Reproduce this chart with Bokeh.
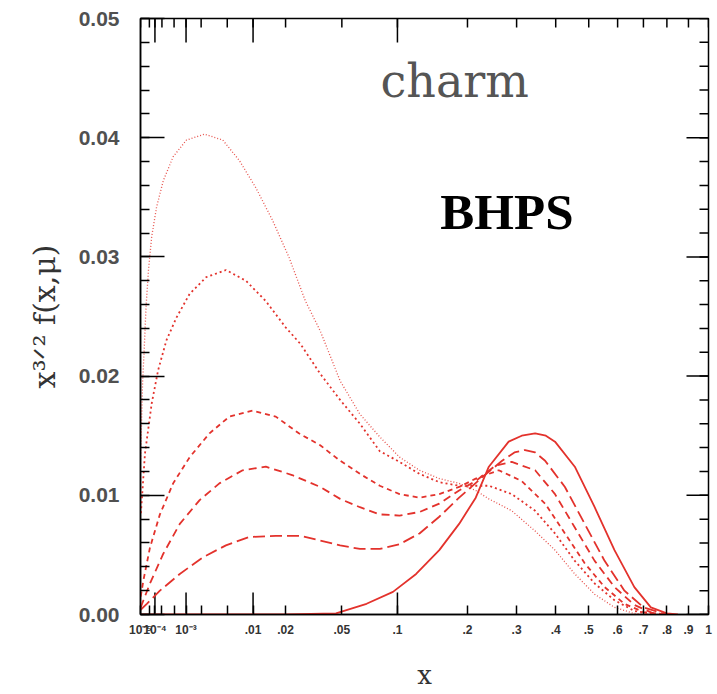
import numpy as np
from bokeh.plotting import figure
from bokeh.models import FixedTicker, CustomJSTickFormatter, Label, Range1d
from bokeh.embed import file_html
from bokeh.resources import INLINE

# ---------------- data ----------------
# solid (lowest scale)
x_mu1 = [1e-5, 0.02, 0.046, 0.0694, 0.0951, 0.1223, 0.1542, 0.1856, 0.215, 0.2402, 0.282, 0.312, 0.345, 0.373,
         0.398, 0.456, 0.5195, 0.5886, 0.6636, 0.7307, 0.80, 0.85]
y_mu1 = [0.0, 0.0, 0.0001, 0.0009, 0.0019, 0.0034, 0.0054, 0.0076, 0.0098, 0.0124, 0.0145, 0.0150, 0.0152, 0.0150,
         0.0145, 0.0124, 0.0090, 0.0054, 0.0023, 0.0006, 0.0001, 0.0]
# long dash
x_mu2 = [1.05e-5, 3.4e-5, 1.66e-4, 7.1e-4, 2.15e-3, 4.8e-3, 9.1e-3, 0.0165, 0.0262, 0.0363, 0.0488, 0.0638,
         0.0816, 0.1024, 0.1266, 0.1542, 0.1856, 0.227, 0.2676, 0.295, 0.32, 0.345, 0.371, 0.4264, 0.487, 0.5534,
         0.6254, 0.70, 0.78, 0.84]
y_mu2 = [0.0004, 0.0009, 0.0020, 0.0034, 0.0048, 0.0058, 0.0065, 0.0066, 0.0066, 0.0062, 0.0058, 0.0055,
         0.0055, 0.0059, 0.0068, 0.0082, 0.0098, 0.0115, 0.0129, 0.0136, 0.0138, 0.0136, 0.0129, 0.0107, 0.0076,
         0.0045, 0.0020, 0.0006, 0.0001, 0.0]
# dash
x_mu3 = [1.05e-5, 1.9e-5, 5.4e-5, 2.25e-4, 7.1e-4, 1.88e-3, 3.9e-3, 7.7e-3, 0.0134, 0.0226, 0.0363, 0.0488,
         0.0638, 0.0816, 0.1024, 0.1266, 0.1542, 0.1856, 0.215, 0.254, 0.289, 0.345, 0.398, 0.456, 0.5195,
         0.5886, 0.6636, 0.74, 0.82]
y_mu3 = [0.0006, 0.0012, 0.0026, 0.0051, 0.0076, 0.0096, 0.0110, 0.0121, 0.0124, 0.0117, 0.0107, 0.0097,
         0.0090, 0.0084, 0.0083, 0.0086, 0.0093, 0.0104, 0.0112, 0.0125, 0.0128, 0.0121, 0.0101, 0.0073, 0.0045,
         0.0023, 0.0008, 0.0001, 0.0]
# short dash
x_mu4 = [1.05e-5, 1.9e-5, 5.4e-5, 1.66e-4, 4.7e-4, 1.2e-3, 2.77e-3, 5.32e-3, 9.9e-3, 0.0165, 0.0255, 0.0363,
         0.0488, 0.0638, 0.0816, 0.1024, 0.1266, 0.1542, 0.1856, 0.215, 0.2606, 0.312, 0.371, 0.4264, 0.487,
         0.5534, 0.6254, 0.70, 0.80]
y_mu4 = [0.0015, 0.0029, 0.0056, 0.0084, 0.0110, 0.0132, 0.0152, 0.0166, 0.0171, 0.0166, 0.0152, 0.0142,
         0.0129, 0.0118, 0.0108, 0.0101, 0.0098, 0.0101, 0.0107, 0.0114, 0.0121, 0.0112, 0.0093, 0.0068, 0.0043,
         0.0023, 0.0009, 0.0002, 0.0]
# dotted
x_mu5 = [1.1e-5, 2.5e-5, 4.4e-5, 6.8e-5, 1.4e-4, 2.9e-4, 5.8e-4, 1.2e-3, 2.45e-3, 4.82e-3, 8.38e-3, 0.01336,
         0.020, 0.0262, 0.0363, 0.0488, 0.0638, 0.0816, 0.1024, 0.1266, 0.1542, 0.1856, 0.2402, 0.289, 0.345,
         0.398, 0.456, 0.5195, 0.5886, 0.6636, 0.75]
y_mu5 = [0.0085, 0.0135, 0.0157, 0.0177, 0.0205, 0.0230, 0.0249, 0.0269, 0.0283, 0.0289, 0.0280, 0.0263,
         0.0241, 0.0227, 0.0202, 0.0180, 0.0160, 0.0137, 0.0128, 0.0118, 0.0111, 0.0108, 0.0108, 0.0101, 0.0087,
         0.0068, 0.0045, 0.0026, 0.0012, 0.0003, 0.0]
# fine dotted (highest scale)
x_mu6 = [1.05e-5, 1.3e-5, 1.6e-5, 2.1e-5, 3.0e-5, 4.4e-5, 6.8e-5, 1.2e-4, 2.25e-4, 4.7e-4, 1.02e-3, 2.29e-3,
         4.35e-3, 7.04e-3, 0.01068, 0.01538, 0.02128, 0.02854, 0.0363, 0.0488, 0.0638, 0.0816, 0.1024, 0.1266,
         0.1542, 0.1856, 0.215, 0.2402, 0.289, 0.345, 0.398, 0.456, 0.5195, 0.5886, 0.66, 0.75]
y_mu6 = [0.0130, 0.0165, 0.0195, 0.0219, 0.0258, 0.0289, 0.0317, 0.0342, 0.0364, 0.0384, 0.0398, 0.0403,
         0.0398, 0.0381, 0.0358, 0.0331, 0.0300, 0.0263, 0.0238, 0.0196, 0.0168, 0.0149, 0.0132, 0.0121,
         0.0114, 0.0110, 0.0104, 0.0097, 0.0087, 0.0070, 0.0054, 0.0034, 0.0017, 0.0006, 0.0001, 0.0]

xtick_values = [1e-5, 1e-4, 1e-3, 0.01, 0.02, 0.05, 0.1, 0.2, 0.3, 0.4, 0.5, 0.6, 0.7, 0.8, 0.9, 1.0]
xtick_labels = ["10⁻⁵", "10⁻⁴", "10⁻³", ".01", ".02", ".05", ".1", ".2", ".3", ".4", ".5", ".6", ".7", ".8",
                ".9", "1"]
xminor_values = [5e-5, 2e-4, 5e-4, 2e-3, 5e-3]
xlong_values = [1e-4, 1e-3, 1e-2, 1e-1]
ytick_values = [0.0, 0.01, 0.02, 0.03, 0.04, 0.05]
ytick_labels = ["0.00", "0.01", "0.02", "0.03", "0.04", "0.05"]
yminor_values = [round(i * 0.002, 3) for i in range(26)]

RED = "#e3322c"
X_MIN, X_MAX = 1e-5, 1.0
Y_MIN, Y_MAX = 0.0, 0.05


def cbrt(v):
    return np.cbrt(np.asarray(v, dtype=float))


p = figure(width=717, height=694, x_range=Range1d(float(cbrt(X_MIN)), float(cbrt(X_MAX))),
           y_range=Range1d(Y_MIN, Y_MAX),
           output_backend="svg", toolbar_location=None,
           min_border_left=140, min_border_right=9, min_border_top=18, min_border_bottom=80)
p.xgrid.visible = False
p.ygrid.visible = False
p.outline_line_color = "black"
p.outline_line_width = 1.5
p.background_fill_color = "white"
p.border_fill_color = "white"

xt = [float(v) for v in cbrt(xtick_values)]
xax = p.xaxis[0]
xax.ticker = FixedTicker(ticks=xt, minor_ticks=[float(v) for v in cbrt(xminor_values)])
xax.formatter = CustomJSTickFormatter(args=dict(tv=xt, lb=xtick_labels), code="""
for (let i = 0; i < tv.length; i++) { if (Math.abs(tv[i] - tick) < 1e-7) return lb[i]; }
return "";
""")
xax.major_tick_in = 9
xax.major_tick_out = 0
xax.minor_tick_in = 9
xax.minor_tick_out = 0
xax.axis_line_color = "black"
xax.axis_line_width = 1.5
xax.major_tick_line_width = 1.5
xax.minor_tick_line_width = 1.5
xax.major_label_text_font = "Liberation Sans"
xax.major_label_text_font_style = "bold"
xax.major_label_text_font_size = "12px"
xax.major_label_text_color = "#333333"
xax.major_label_standoff = 8
xax.axis_label = "x"
xax.axis_label_text_font = "DejaVu Serif"
xax.axis_label_text_font_style = "normal"
xax.axis_label_text_font_size = "26px"
xax.axis_label_text_color = "#333333"
xax.axis_label_standoff = 20

yax = p.yaxis[0]
yax.ticker = FixedTicker(ticks=ytick_values, minor_ticks=yminor_values)
yax.formatter = CustomJSTickFormatter(args=dict(tv=ytick_values, lb=ytick_labels), code="""
for (let i = 0; i < tv.length; i++) { if (Math.abs(tv[i] - tick) < 1e-9) return lb[i]; }
return "";
""")
yax.major_tick_in = 24
yax.major_tick_out = 0
yax.minor_tick_in = 9
yax.minor_tick_out = 0
yax.axis_line_color = "black"
yax.axis_line_width = 1.5
yax.major_tick_line_width = 1.5
yax.minor_tick_line_width = 1.5
yax.major_label_text_font = "Liberation Sans"
yax.major_label_text_font_style = "bold"
yax.major_label_text_font_size = "21px"
yax.major_label_text_color = "#505050"
yax.major_label_standoff = 21
yax.axis_label = "x³ᐟ² f(x,μ)"
yax.axis_label_text_font = "DejaVu Serif"
yax.axis_label_text_font_style = "normal"
yax.axis_label_text_font_size = "30px"
yax.axis_label_text_color = "#333333"
yax.axis_label_standoff = 14

# mirrored ticks on the top and right frame edges, and the longer decade ticks
TICK = dict(line_color="black", line_width=1.5, length_units="screen")
p.ray(x=cbrt(xtick_values), y=Y_MAX, length=9, angle=-np.pi / 2, **TICK)
p.ray(x=cbrt(xminor_values), y=Y_MAX, length=9, angle=-np.pi / 2, **TICK)
p.ray(x=cbrt(xlong_values), y=Y_MAX, length=24, angle=-np.pi / 2, **TICK)
p.ray(x=cbrt(xlong_values), y=Y_MIN, length=22, angle=np.pi / 2, **TICK)
p.ray(x=float(cbrt(X_MAX)), y=ytick_values, length=22, angle=np.pi, **TICK)
p.ray(x=float(cbrt(X_MAX)), y=yminor_values, length=9, angle=np.pi, **TICK)

# curves
p.line(cbrt(x_mu6), y_mu6, line_color=RED, line_width=1.3, line_dash="1 2", line_alpha=0.85)
p.line(cbrt(x_mu5), y_mu5, line_color=RED, line_width=1.8, line_dash="2 3")
p.line(cbrt(x_mu4), y_mu4, line_color=RED, line_width=1.8, line_dash="5 4")
p.line(cbrt(x_mu3), y_mu3, line_color=RED, line_width=1.8, line_dash="8 5")
p.line(cbrt(x_mu2), y_mu2, line_color=RED, line_width=1.8, line_dash="12 5")
p.line(cbrt(x_mu1), y_mu1, line_color=RED, line_width=1.8)

p.add_layout(Label(x=0.435, y=0.04476, text="charm", text_font="DejaVu Serif", text_font_size="46px",
                   text_color="#555555", text_baseline="alphabetic"))
p.add_layout(Label(x=0.538, y=0.03373, text="BHPS", text_font="Liberation Serif", text_font_style="bold",
                   text_font_size="51px", text_color="black", text_baseline="alphabetic"))

open("out.html", "w").write(file_html(p, INLINE))
